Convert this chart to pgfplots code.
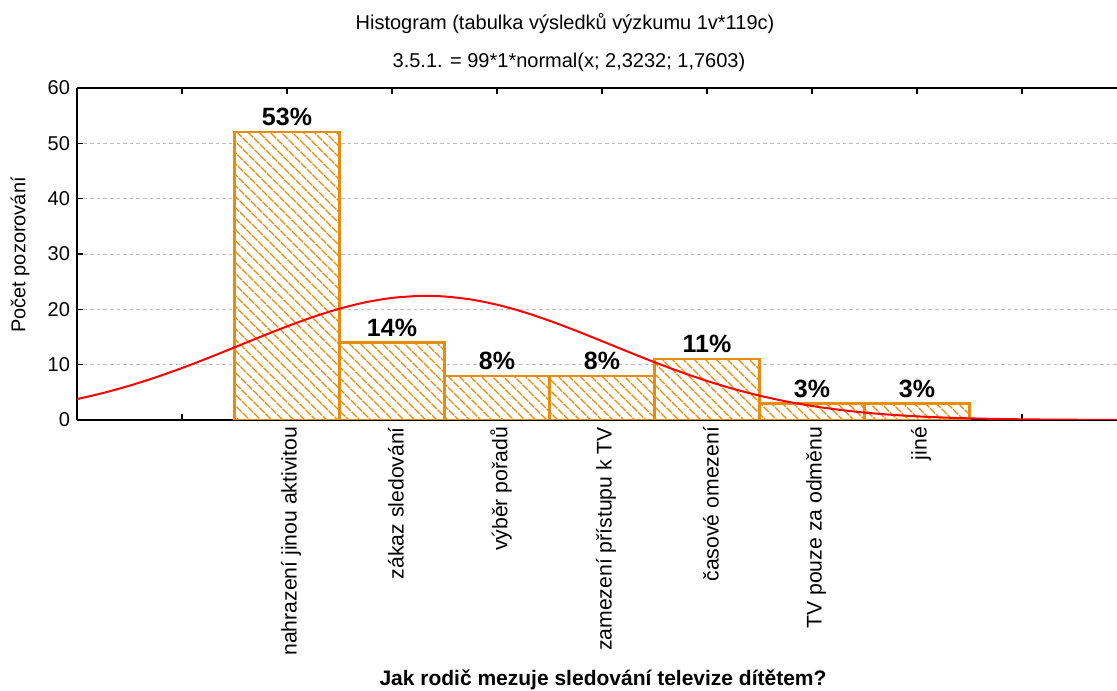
\documentclass[border=0pt]{standalone}
\usepackage{fontspec}
\setmainfont{Liberation Sans}
\usepackage{pgfplots}
\pgfplotsset{compat=1.18}
\usetikzlibrary{patterns.meta}
\definecolor{barorange}{RGB}{232,140,16}
\definecolor{gridgray}{RGB}{190,190,190}
\begin{document}
\begin{tikzpicture}
\begin{axis}[
  at={(38.5pt,135pt)}, anchor=south west,
  scale only axis, width=520pt, height=166pt,
  xmin=-1, xmax=8.905, ymin=0, ymax=60,
  axis x line=box, axis y line=left,
  axis line style={-, line width=1pt, black},
  tick align=inside, major tick length=3pt,
  tick style={black, line width=0.8pt},
  xtick={0,...,8},
  xticklabels={{},nahrazení jinou aktivitou,zákaz sledování,výběr pořadů,zamezení přístupu k TV,časové omezení,TV pouze za odměnu,jiné,{}},
  xticklabel style={rotate=90, anchor=east, font=\fontsize{10.6}{12}\selectfont, yshift=-2pt},
  ytick={0,10,...,60},
  yticklabel style={font=\fontsize{10}{12}\selectfont},
  /pgf/number format/assume math mode=true,
  ymajorgrids, grid style={gridgray, line width=0.5pt, dash pattern=on 1.8pt off 1.5pt},
  clip=true,
]
\addplot[ybar, bar width=1, draw=barorange, line width=1.1pt, fill=white,
  postaction={pattern={Lines[angle=-45,distance=4pt,line width=0.75pt]}, pattern color=barorange},
  point meta=explicit symbolic,
  nodes near coords, every node near coord/.append style={font=\bfseries\fontsize{12.5}{14}\selectfont, black, inner sep=2.5pt}]
  coordinates {(1,52)[53\%] (2,14)[14\%] (3,8)[8\%] (4,8)[8\%] (5,11)[11\%] (6,3)[3\%] (7,3)[3\%]};
\addplot[red, line width=1pt, smooth] coordinates {
(-1.0,3.776) (-0.75,4.887) (-0.5,6.202) (-0.25,7.709) (0,9.392) (0.25,11.214)
(0.5,13.124) (0.75,15.051) (1.0,16.916) (1.25,18.632) (1.5,20.113) (1.75,21.279)
(2.0,22.062) (2.25,22.418) (2.3232,22.437) (2.5,22.324) (2.75,21.787) (3.0,20.838)
(3.25,19.533) (3.5,17.944) (3.75,16.155) (4.0,14.253) (4.25,12.325) (4.5,10.445)
(4.75,8.675) (5.0,7.060) (5.25,5.632) (5.5,4.403) (5.75,3.373) (6.0,2.533)
(6.25,1.864) (6.5,1.344) (6.75,0.950) (7.0,0.658) (7.25,0.4465) (7.5,0.297)
(7.75,0.194) (8.0,0.124) (8.25,0.0775) (8.5,0.0476) (8.75,0.0286) (8.905,0.0209)};
\end{axis}
\node[font=\fontsize{10}{12}\selectfont] at (282.5pt,333pt) {Histogram (tabulka výsledků výzkumu 1v*119c)};
\node[font=\fontsize{10}{12}\selectfont] at (284.5pt,314pt) {3.5.1. = 99*1*normal(x; 2,3232; 1,7603)};
\node[font=\fontsize{10}{12}\selectfont, rotate=90] at (10pt,217.5pt) {Počet pozorování};
\node[font=\bfseries\fontsize{10.5}{12}\selectfont] at (301.5pt,5pt) {Jak rodič mezuje sledování televize dítětem?};
\pgfresetboundingbox
\path[use as bounding box] (0,0) rectangle (558.5pt,345pt);
\end{tikzpicture}
\end{document}
